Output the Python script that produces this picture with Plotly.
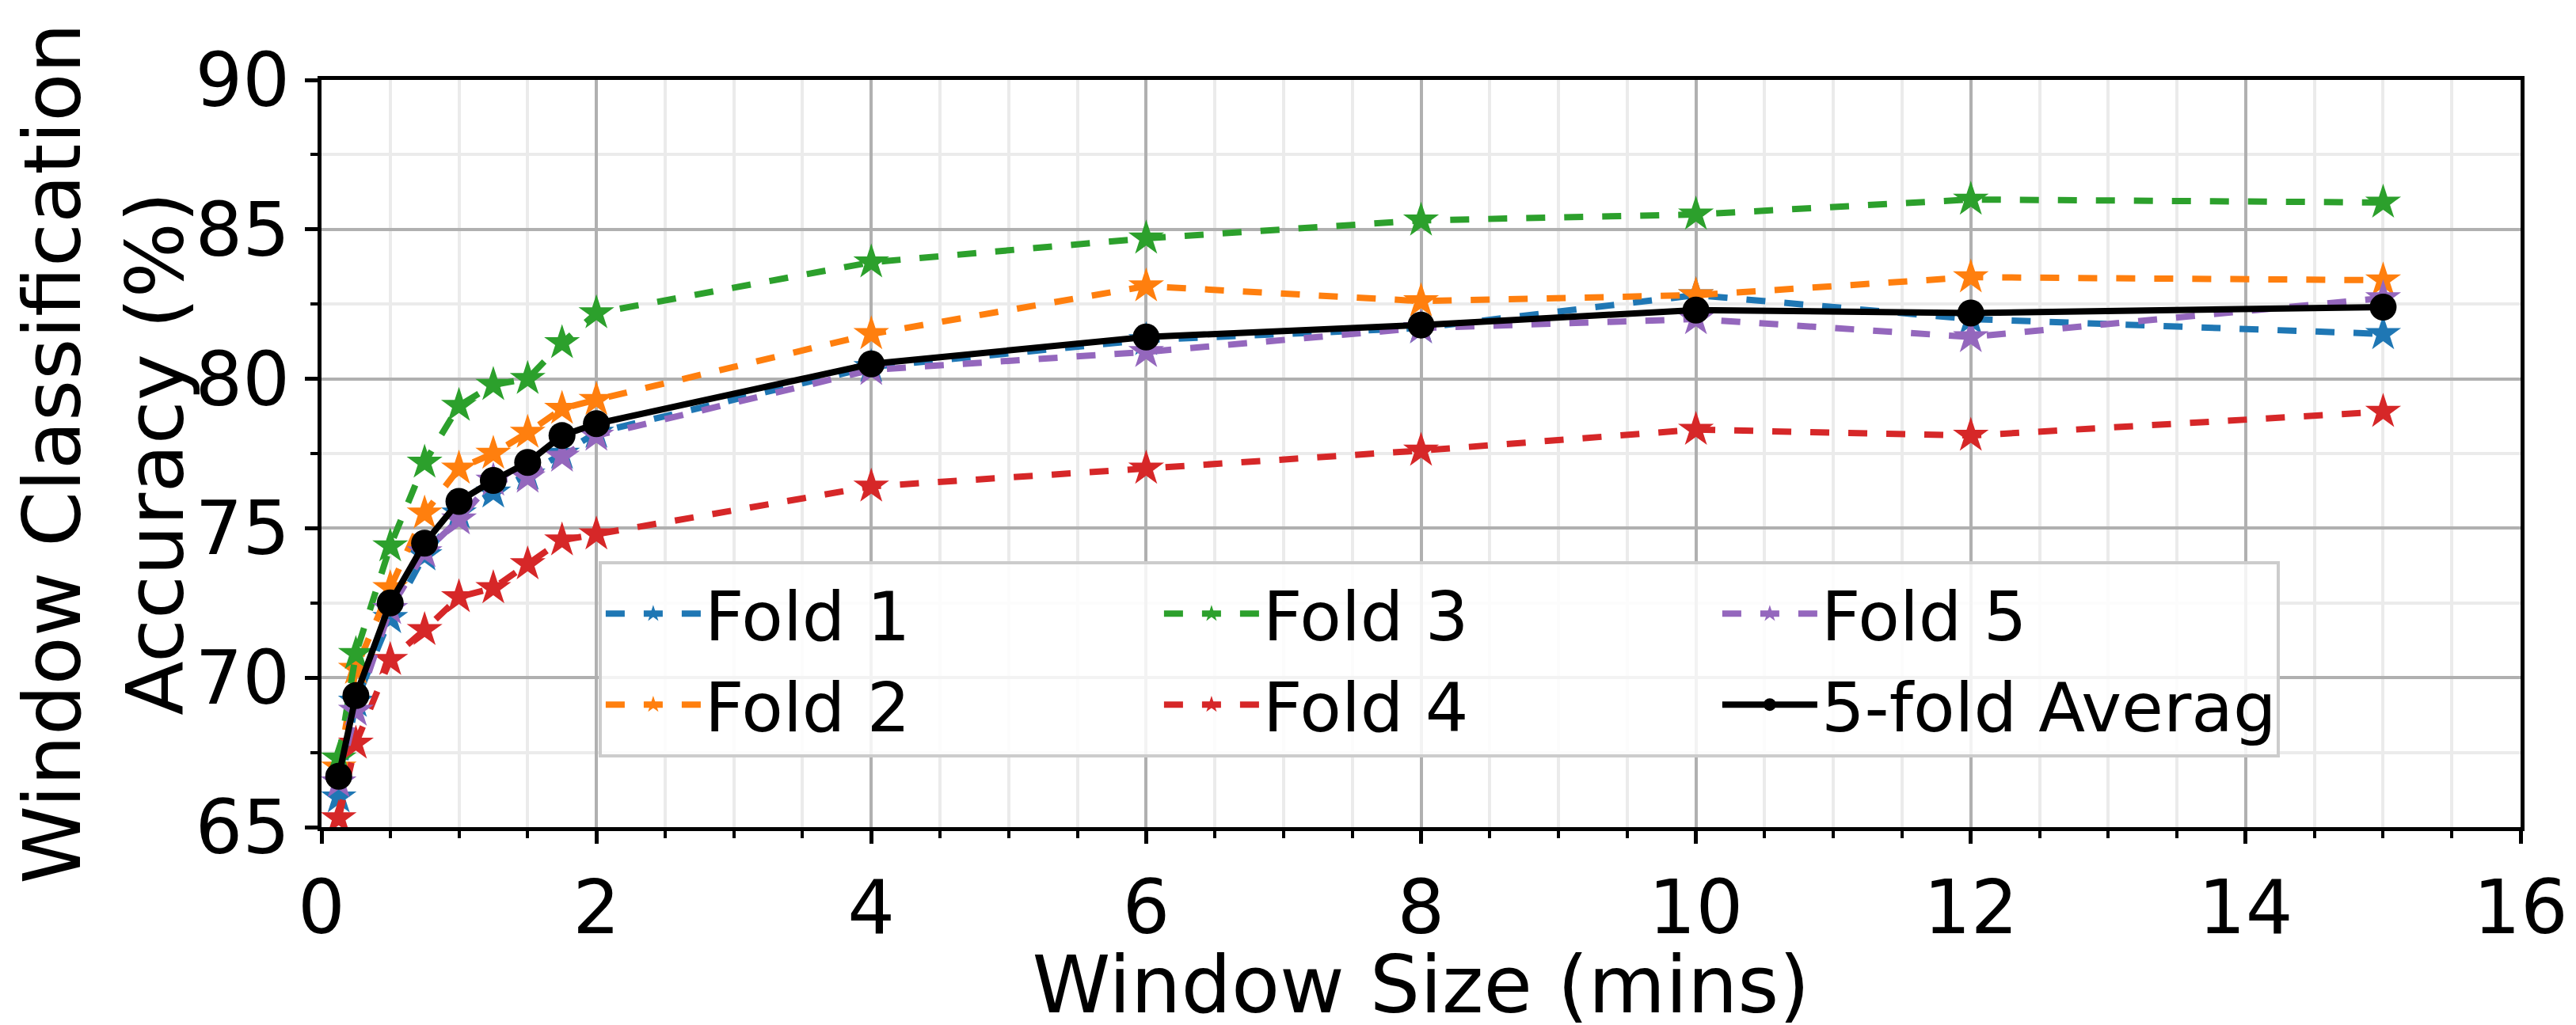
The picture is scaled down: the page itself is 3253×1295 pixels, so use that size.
import plotly.graph_objects as go

window_mins = [0.125, 0.25, 0.5, 0.75, 1, 1.25, 1.5, 1.75, 2, 4, 6, 8, 10, 12, 15]

fold1 = [66.0, 69.2, 72.0, 74.1, 75.5, 76.2, 76.8, 77.5, 78.2, 80.4, 81.3, 81.7, 82.8, 82.0, 81.5]
fold2 = [67.0, 70.3, 73.0, 75.5, 77.0, 77.5, 78.2, 79.0, 79.3, 81.5, 83.1, 82.6, 82.8, 83.4, 83.3]
fold3 = [67.3, 70.8, 74.4, 77.2, 79.1, 79.8, 80.0, 81.2, 82.2, 83.9, 84.7, 85.3, 85.5, 86.0, 85.9]
fold4 = [65.3, 67.8, 70.6, 71.6, 72.7, 73.0, 73.8, 74.6, 74.8, 76.4, 77.0, 77.6, 78.3, 78.1, 78.9]
fold5 = [66.5, 68.9, 72.3, 74.2, 75.3, 76.6, 76.7, 77.4, 78.1, 80.3, 80.9, 81.7, 82.0, 81.4, 82.7]
average = [66.7, 69.4, 72.5, 74.5, 75.9, 76.6, 77.2, 78.1, 78.5, 80.5, 81.4, 81.8, 82.3, 82.2, 82.4]

# plotly fills legend rows, matplotlib filled columns -> reorder via legendrank
series = [
    ("Fold 1", fold1, "#1f77b4"),
    ("Fold 3", fold3, "#2ca02c"),
    ("Fold 5", fold5, "#9467bd"),
    ("Fold 2", fold2, "#ff7f0e"),
    ("Fold 4", fold4, "#d62728"),
]
draw_order = ["Fold 1", "Fold 2", "Fold 3", "Fold 4", "Fold 5"]

fig = go.Figure()
for name in draw_order:
    label, vals, color = next(s for s in series if s[0] == name)
    rank = [s[0] for s in series].index(name)
    fig.add_trace(go.Scatter(
        x=window_mins, y=vals, name=label, mode="lines+markers",
        line=dict(color=color, width=8, dash="dash"),
        marker=dict(symbol="star", size=34, color=color),
        legendrank=rank + 1,
    ))
fig.add_trace(go.Scatter(
    x=window_mins, y=average, name="5-fold Average", mode="lines+markers",
    line=dict(color="black", width=8),
    marker=dict(symbol="circle", size=34, color="black"),
    legendrank=6,
))

axis_common = dict(
    showline=True, linecolor="black", linewidth=5, mirror=True,
    ticks="outside", ticklen=16, tickwidth=5, tickcolor="black",
    showgrid=True, gridcolor="#b0b0b0", gridwidth=4,
    tickfont=dict(size=94, color="black"),
    zeroline=False,
)
fig.update_xaxes(
    range=[0, 16], dtick=2, **axis_common,
    minor=dict(dtick=0.5, showgrid=True, gridcolor="#ebebeb", gridwidth=4,
               ticks="outside", ticklen=9, tickwidth=4, tickcolor="black"),
    title=dict(text="Window Size (mins)", font=dict(size=100, color="black"), standoff=5),
)
fig.update_yaxes(
    range=[65, 90], dtick=5, **axis_common,
    minor=dict(dtick=2.5, showgrid=True, gridcolor="#ebebeb", gridwidth=4,
               ticks="outside", ticklen=9, tickwidth=4, tickcolor="black"),
    title=dict(text="Window Classification<br>Accuracy (%)", font=dict(size=100, color="black"), standoff=15),
)

fig.update_layout(
    width=3253, height=1295,
    margin=dict(l=398, r=78, t=93, b=258),
    plot_bgcolor="white", paper_bgcolor="white",
    font=dict(family="DejaVu Sans", color="black"),
    legend=dict(
        orientation="h", x=0.126, y=0.356, xanchor="left", yanchor="top",
        entrywidth=570, entrywidthmode="pixels",
        font=dict(size=86), itemwidth=120,
        bgcolor="rgba(255,255,255,0.85)", bordercolor="#cccccc", borderwidth=4,
        traceorder="normal",
    ),
)

fig.write_html("out.html")
